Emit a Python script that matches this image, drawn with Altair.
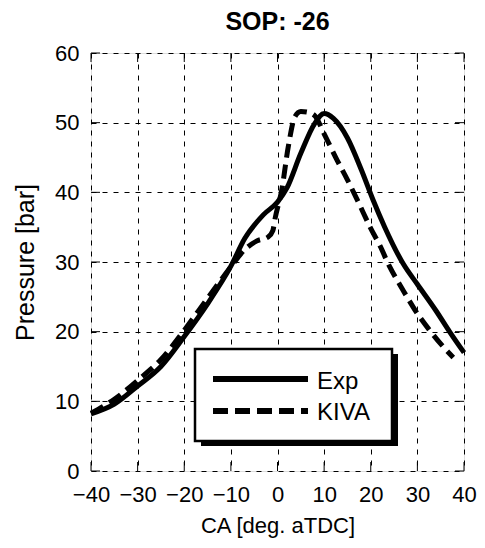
import altair as alt
import pandas as pd

title_text = "SOP: -26"
series_names = ["Exp", "KIVA"]
x_title = "CA [deg. aTDC]"
y_title = "Pressure [bar]"
x_ticks = [-40, -30, -20, -10, 0, 10, 20, 30, 40]
y_ticks = [0, 10, 20, 30, 40, 50, 60]

exp_ca = [-40, -35, -30, -25, -20, -15, -10, -7, -3, 0, 2, 5, 8, 10, 12, 15, 18, 20.5, 23, 27, 30, 34, 37, 40]
exp_p = [8.2, 9.6, 12.2, 15.0, 19.3, 24.0, 29.4, 33.4, 36.8, 38.6, 40.6, 45.6, 49.9, 51.3, 50.6, 47.8, 43.2, 38.9, 35.0, 29.7, 26.8, 23.0, 19.9, 17.0]

kiva_ca = [-40, -35, -30, -25, -20, -15, -10, -7, -4.5, -2, -1, -0.5, 0.9, 2.3, 3.7, 5, 6.5, 8, 10, 12.8, 15, 17.4, 19.8, 22, 24, 26.8, 29.6, 32.4, 35.2, 37.7]
kiva_p = [8.3, 10.3, 13.0, 16.0, 20.2, 24.8, 29.3, 31.8, 33.0, 33.6, 34.5, 36.3, 40.3, 46.5, 50.8, 51.6, 51.5, 51.0, 48.4, 44.6, 41.8, 38.5, 35.1, 32.3, 29.4, 26.1, 23.0, 20.4, 18.1, 16.3]

W, H = 373, 418
FONT = "Liberation Sans"

xs = alt.Scale(domain=[-40, 40], nice=False, zero=False)
ys = alt.Scale(domain=[0, 60], nice=False)

x_axis = alt.Axis(values=x_ticks, grid=True, gridDash=[5, 6], gridColor="black", gridWidth=1,
                  gridOpacity=1, ticks=False, domain=False, labelFontSize=22, labelFont=FONT,
                  labelColor="black", labelPadding=13, labelFlush=False, title=x_title,
                  titleFont=FONT, titleFontSize=22, titleFontWeight="normal",
                  titleColor="black", titlePadding=10)
y_axis = alt.Axis(values=y_ticks, grid=True, gridDash=[5, 6], gridColor="black", gridWidth=1,
                  gridOpacity=1, ticks=False, domain=False, labelFontSize=22, labelFont=FONT,
                  labelColor="black", labelPadding=12, labelFlush=False, title=y_title,
                  titleFont=FONT, titleFontSize=25, titleFontWeight="normal",
                  titleColor="black", titlePadding=16)

X = alt.X("ca:Q", scale=xs, axis=x_axis)
Y = alt.Y("p:Q", scale=ys, axis=y_axis)

exp_df = pd.DataFrame({"ca": exp_ca, "p": exp_p})
kiva_df = pd.DataFrame({"ca": kiva_ca, "p": kiva_p})

exp_line = alt.Chart(exp_df).mark_line(color="black", strokeWidth=5, interpolate="monotone",
                                       strokeJoin="round").encode(x=X, y=Y)
kiva_line = alt.Chart(kiva_df).mark_line(color="black", strokeWidth=5, interpolate="monotone",
                                         strokeDash=[14, 7], strokeCap="butt").encode(x=X, y=Y)

TL = 9
xt_df = pd.DataFrame({"ca": x_ticks})
yt_df = pd.DataFrame({"p": y_ticks})
tick_b = alt.Chart(xt_df).mark_rule(color="black", strokeWidth=1).encode(x=X, y=alt.value(H), y2=alt.value(H - TL))
tick_t = alt.Chart(xt_df).mark_rule(color="black", strokeWidth=1).encode(x=X, y=alt.value(0), y2=alt.value(TL))
tick_l = alt.Chart(yt_df).mark_rule(color="black", strokeWidth=1).encode(y=Y, x=alt.value(0), x2=alt.value(TL))
tick_r = alt.Chart(yt_df).mark_rule(color="black", strokeWidth=1).encode(y=Y, x=alt.value(W), x2=alt.value(W - TL))

one = pd.DataFrame({"k": [0]})
shadow = alt.Chart(one).mark_rect(color="black").encode(
    x=alt.value(110), x2=alt.value(307), y=alt.value(301), y2=alt.value(393))
box = alt.Chart(one).mark_rect(fill="white", stroke="black", strokeWidth=2.5).encode(
    x=alt.value(104), x2=alt.value(301), y=alt.value(296), y2=alt.value(388))
leg_solid = alt.Chart(one).mark_rule(color="black", strokeWidth=6).encode(
    x=alt.value(122), x2=alt.value(217), y=alt.value(326))
leg_dash = alt.Chart(one).mark_rule(color="black", strokeWidth=6, strokeDash=[15, 7]).encode(
    x=alt.value(122), x2=alt.value(217), y=alt.value(358))
leg_t1 = alt.Chart(one).mark_text(text=series_names[0], align="left", baseline="alphabetic",
                                  fontSize=24, font=FONT, color="black").encode(
    x=alt.value(226), y=alt.value(336))
leg_t2 = alt.Chart(one).mark_text(text=series_names[1], align="left", baseline="alphabetic",
                                  fontSize=24, font=FONT, color="black").encode(
    x=alt.value(226), y=alt.value(367))

chart = alt.layer(
    tick_b, tick_t, tick_l, tick_r, exp_line, kiva_line,
    shadow, box, leg_solid, leg_dash, leg_t1, leg_t2
).properties(
    width=W, height=H,
    title=alt.TitleParams(title_text, fontSize=25, font=FONT, fontWeight="bold", color="black", offset=7),
    padding={"left": 83, "top": 45, "right": 13, "bottom": 69},
    autosize=alt.AutoSizeParams(type="none"),
).configure_view(stroke="black", strokeWidth=1.5).configure(background="white")

chart.save("out.html", embed_options={"renderer": "svg", "actions": False})
